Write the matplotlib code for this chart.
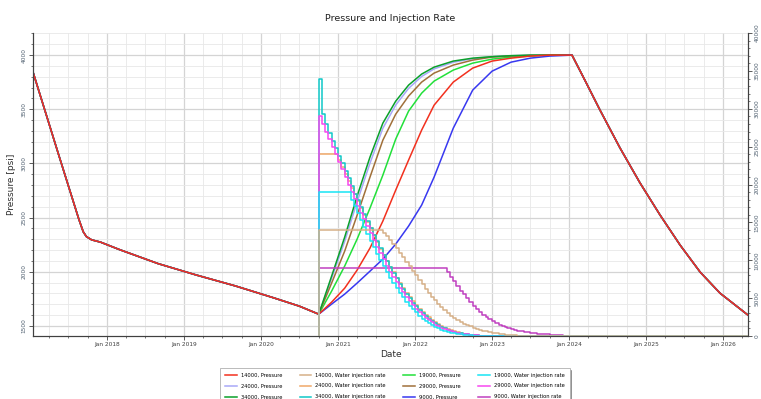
import numpy as np
import pandas as pd
import matplotlib
matplotlib.use('Agg')
import matplotlib.pyplot as plt
import matplotlib.dates as mdates
from matplotlib.ticker import MultipleLocator, FuncFormatter

# shared depletion history before injection
hist_dates = ['2017-01-15', '2017-05-15', '2017-08-20', '2017-09-10', '2017-09-25',
              '2017-10-20', '2017-12-01', '2018-03-01', '2018-09-01', '2019-03-01',
              '2019-09-01', '2020-03-01', '2020-07-01']
hist_p = [3843, 3090, 2487, 2370, 2325, 2295, 2274, 2205, 2075, 1970, 1870, 1760, 1683]

# pressure build-up per case during injection
rise_dates = ['2020-10-01', '2020-12-01', '2021-02-01', '2021-04-01', '2021-06-01',
              '2021-08-01', '2021-10-01', '2021-12-01', '2022-02-01', '2022-04-01',
              '2022-07-01', '2022-10-01', '2023-01-01', '2023-04-01', '2023-07-01',
              '2023-10-01', '2024-01-15']
p_34000 = [1609, 1960, 2320, 2699, 3059, 3372, 3575, 3723, 3825, 3889, 3945, 3972, 3986, 3995, 4000, 4000, 4000]
p_29000 = [1609, 1896, 2191, 2523, 2874, 3215, 3455, 3622, 3751, 3834, 3908, 3954, 3982, 3991, 3997, 4000, 4000]
p_24000 = [1609, 1940, 2281, 2646, 3003, 3325, 3539, 3693, 3803, 3873, 3934, 3967, 3985, 3994, 3999, 4000, 4000]
p_19000 = [1609, 1822, 2053, 2302, 2588, 2892, 3225, 3483, 3649, 3760, 3862, 3926, 3963, 3982, 3991, 4000, 4000]
p_14000 = [1609, 1720, 1849, 2016, 2219, 2468, 2754, 3031, 3308, 3538, 3751, 3880, 3945, 3972, 3991, 4000, 4000]
p_9000 = [1609, 1702, 1794, 1896, 2006, 2117, 2256, 2422, 2616, 2874, 3326, 3677, 3852, 3935, 3972, 3991, 4000]

# shared fall-off after injection stops
fall_dates = ['2024-03-16', '2024-05-27', '2024-08-30', '2024-12-03', '2025-03-08',
              '2025-06-11', '2025-09-14', '2025-12-17', '2026-04-29']
fall_p = [3769, 3492, 3142, 2819, 2523, 2246, 1997, 1803, 1600]

# water injection rate, thousand units, semi-monthly from 2020-10-01
q_34000 = [34.0, 29.3, 28.0, 26.8, 25.8, 24.8, 23.8, 22.8, 21.8, 20.8, 19.8, 18.8, 17.9, 17.0,
           16.1, 15.2, 14.3, 13.4, 12.5, 11.6, 10.7, 9.9, 9.1, 8.3, 7.6, 6.9, 6.2, 5.6, 5.0,
           4.4, 3.9, 3.4, 3.0, 2.6, 2.3, 2.0, 1.7, 1.4, 1.2, 1.0, 0.85, 0.7, 0.55, 0.45, 0.35,
           0.28, 0.22, 0.17, 0.12, 0.08, 0.05, 0.03, 0.0]
q_29000 = [29.0, 28.0, 27.0, 26.0, 25.0, 24.0, 23.0, 22.0, 21.0, 20.0, 19.0, 18.1, 17.2, 16.3,
           15.4, 14.5, 13.6, 12.7, 11.8, 10.9, 10.1, 9.3, 8.5, 7.8, 7.1, 6.4, 5.8, 5.2, 4.6,
           4.1, 3.6, 3.2, 2.8, 2.4, 2.1, 1.8, 1.5, 1.3, 1.1, 0.9, 0.75, 0.6, 0.5, 0.4, 0.3,
           0.25, 0.2, 0.15, 0.1, 0.07, 0.05, 0.03, 0.0]
q_24000 = [24.0, 24.0, 24.0, 24.0, 24.0, 24.0, 23.2, 22.3, 21.4, 20.5, 19.6, 18.7, 17.8, 16.9,
           16.0, 15.1, 14.2, 13.3, 12.4, 11.5, 10.7, 9.9, 9.1, 8.4, 7.7, 7.0, 6.3, 5.7, 5.1,
           4.6, 4.1, 3.6, 3.2, 2.8, 2.45, 2.1, 1.8, 1.55, 1.3, 1.1, 0.9, 0.75, 0.6, 0.48,
           0.38, 0.3, 0.23, 0.17, 0.12, 0.08, 0.05, 0.03, 0.02, 0.0]
q_19000 = [19.0, 19.0, 19.0, 19.0, 19.0, 19.0, 19.0, 19.0, 19.0, 19.0, 18.0, 17.1, 16.2, 15.3,
           14.4, 13.5, 12.6, 11.7, 10.8, 10.0, 9.2, 8.4, 7.7, 7.0, 6.3, 5.7, 5.1, 4.5, 4.0,
           3.5, 3.1, 2.7, 2.3, 2.0, 1.7, 1.45, 1.2, 1.0, 0.85, 0.7, 0.55, 0.45, 0.35, 0.27,
           0.2, 0.15, 0.1, 0.07, 0.05, 0.03, 0.02, 0.01, 0.0]
q_14000 = [14.0] * 20 + [13.6, 13.2, 12.7, 12.2, 11.6, 11.0, 10.4, 9.8, 9.2, 8.6, 8.0, 7.4,
           6.8, 6.2, 5.7, 5.2, 4.7, 4.2, 3.8, 3.4, 3.0, 2.7, 2.4, 2.1, 1.85, 1.6, 1.4, 1.25,
           1.1, 0.95, 0.82, 0.7, 0.6, 0.5, 0.42, 0.35, 0.28, 0.22, 0.17, 0.13, 0.1, 0.07,
           0.05, 0.03, 0.0]
q_9000 = [9.0] * 40 + [8.4, 7.8, 7.2, 6.6, 6.0, 5.5, 5.0, 4.5, 4.0, 3.6, 3.2, 2.8, 2.5, 2.2,
          1.95, 1.7, 1.5, 1.3, 1.15, 1.0, 0.9, 0.8, 0.7, 0.62, 0.55, 0.48, 0.42, 0.37, 0.32,
          0.28, 0.24, 0.2, 0.17, 0.14, 0.11, 0.08, 0.06, 0.04, 0.02, 0.0]

cases = ['14000', '19000', '24000', '29000', '34000', '9000']
pressures = {'14000': p_14000, '19000': p_19000, '24000': p_24000,
             '29000': p_29000, '34000': p_34000, '9000': p_9000}
rates = {'14000': q_14000, '19000': q_19000, '24000': q_24000,
         '29000': q_29000, '34000': q_34000, '9000': q_9000}
p_colors = {'14000': '#f2301e', '19000': '#22e03a', '24000': '#a8a8f8',
            '29000': '#a0703a', '34000': '#0aa02a', '9000': '#3838f0'}
q_colors = {'14000': '#d6b088', '19000': '#18e4f4', '24000': '#f0a868',
            '29000': '#f848f0', '34000': '#10c8c8', '9000': '#c040c0'}

end_date = pd.Timestamp('2026-04-29')

fig = plt.figure(figsize=(7.61, 3.99), dpi=100, facecolor='white')
ax = fig.add_axes([0.0434, 0.158, 0.9396, 0.759])
ax2 = ax.twinx()

handles = {}
for c in cases:
    d = pd.to_datetime(hist_dates + rise_dates + fall_dates)
    p = hist_p + pressures[c] + fall_p
    z = 5 if c == '14000' else 3
    h, = ax.plot(d, p, color=p_colors[c], lw=1.1, zorder=z)
    handles[(c, 'p')] = h

for c in ['9000', '24000', '34000', '29000', '19000', '14000']:
    q = np.array(rates[c]) * 1000
    d = pd.date_range('2020-10-01', periods=len(q), freq='SMS')
    d = d.append(pd.DatetimeIndex([end_date]))
    q = np.concatenate([q, [0.0]])
    d = d.insert(0, d[0])
    q = np.concatenate([[0.0], q])
    h, = ax2.plot(d, q, color=q_colors[c], lw=1.1, drawstyle='steps-post')
    handles[(c, 'q')] = h

ax.set_xlim(pd.Timestamp('2017-01-15'), end_date)
ax.set_ylim(1408, 4203)
ax2.set_ylim(0, 40000)

ax.xaxis.set_major_locator(mdates.YearLocator())
ax.xaxis.set_major_formatter(mdates.DateFormatter('Jan %Y'))
ax.xaxis.set_minor_locator(mdates.MonthLocator(bymonth=[4, 7, 10]))
ax.yaxis.set_major_locator(MultipleLocator(500))
ax.yaxis.set_minor_locator(MultipleLocator(100))
ax2.yaxis.set_major_locator(MultipleLocator(5000))
ax2.yaxis.set_minor_locator(MultipleLocator(1000))
ax2.yaxis.set_major_formatter(FuncFormatter(lambda v, p: '%d' % v))

ax.grid(which='major', color='#d4d4d4', lw=0.9)
ax.grid(which='minor', color='#e8e8e8', lw=0.6)
ax.set_axisbelow(True)

for a in (ax, ax2):
    for s in a.spines.values():
        s.set_color('#404040')
        s.set_linewidth(0.8)
    a.tick_params(which='major', length=3, width=0.6, colors='#404040', labelsize=4.2, pad=1.5)
    a.tick_params(which='minor', length=1.5, width=0.5, colors='#404040')
ax.spines['top'].set_visible(False)
ax2.spines['top'].set_visible(False)
for lab in ax.get_yticklabels() + ax2.get_yticklabels():
    lab.set_rotation(90)
    lab.set_va('center')
    lab.set_color('#506070')
for lab in ax.get_xticklabels():
    lab.set_color('#404040')

ax.set_ylabel('Pressure [psi]', fontsize=6.5, color='#303030', labelpad=4)
ax.set_xlabel('Date', fontsize=6.5, color='#303030', labelpad=2)
ax.set_title('Pressure and Injection Rate', fontsize=6.8, color='#202020', pad=9)

# legend laid out row by row, four entries per row
order = [('14000', 'p'), ('14000', 'q'), ('19000', 'p'), ('19000', 'q'),
         ('24000', 'p'), ('24000', 'q'), ('29000', 'p'), ('29000', 'q'),
         ('34000', 'p'), ('34000', 'q'), ('9000', 'p'), ('9000', 'q')]
names = {'p': 'Pressure', 'q': 'Water injection rate'}
col_major = [order[r * 4 + c] for c in range(4) for r in range(3)]
leg = fig.legend([handles[k] for k in col_major],
                 ['%s, %s' % (k[0], names[k[1]]) for k in col_major],
                 ncol=4, loc='upper center', bbox_to_anchor=(0.519, 0.078),
                 prop={'size': 3.7}, frameon=True, fancybox=False,
                 shadow={'ox': 1.2, 'oy': -1.2, 'color': '#404040'},
                 handlelength=2.3, handletextpad=0.8, columnspacing=3.4,
                 labelspacing=1.15, borderpad=0.9, borderaxespad=0.0,
                 edgecolor='#b0b0b0')
leg.get_frame().set_linewidth(0.6)

fig.savefig('out.png', dpi=100)
